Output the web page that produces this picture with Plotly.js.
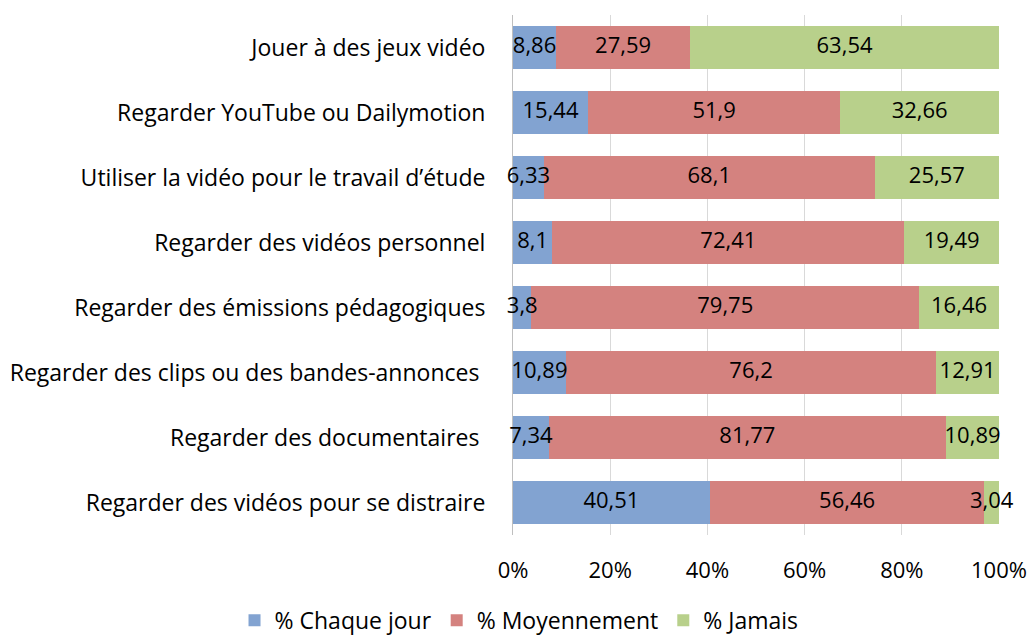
<!DOCTYPE html>
<html><head><meta charset="utf-8">
<script src="https://cdn.plot.ly/plotly-3.0.1.min.js"></script>
<style>body{margin:0;background:#fff}#chart{width:1030px;height:637px}</style>
</head><body><div id="chart"></div>
<script>
const categories = [
  "Jouer à des jeux vidéo",
  "Regarder YouTube ou Dailymotion",
  "Utiliser la vidéo pour le travail d’étude",
  "Regarder des vidéos personnel",
  "Regarder des émissions pédagogiques",
  "Regarder des clips ou des bandes-annonces\u00a0",
  "Regarder des documentaires\u00a0",
  "Regarder des vidéos pour se distraire"
];
const chaqueJour = [8.86, 15.44, 6.33, 8.1, 3.8, 10.89, 7.34, 40.51];
const moyennement = [27.59, 51.9, 68.1, 72.41, 79.75, 76.2, 81.77, 56.46];
const jamais = [63.54, 32.66, 25.57, 19.49, 16.46, 12.91, 10.89, 3.04];
const seriesNames = ["% Chaque jour", "% Moyennement", "% Jamais"];
const seriesColors = ["#82A3D1", "#D4827F", "#B8D08B"];
const tickVals = [0, 20, 40, 60, 80, 100];

const fmt = v => String(v).replace('.', ',');
const FONT = "'Open Sans', sans-serif";
const FS = 22;

const series = [chaqueJour, moyennement, jamais];
const data = series.map((vals, i) => ({
  type: 'bar',
  orientation: 'h',
  name: seriesNames[i],
  x: vals,
  y: categories,
  marker: {color: seriesColors[i], line: {width: 0}},
  hoverinfo: 'x+y+name'
}));

// data labels: text-only traces centred on each stacked segment
const base = categories.map(() => 0);
series.forEach((vals) => {
  const mids = vals.map((v, k) => base[k] + v / 2);
  vals.forEach((v, k) => { base[k] += v; });
  data.push({
    type: 'scatter', mode: 'text', x: mids, y: categories,
    text: vals.map(fmt), textposition: 'middle center',
    textfont: {family: FONT, size: FS, color: '#000'},
    cliponaxis: false, showlegend: false, hoverinfo: 'skip'
  });
});

const layout = {
  width: 1030, height: 637,
  barmode: 'stack',
  bargap: 0.35,
  margin: {l: 513, r: 31, t: 15, b: 102, autoexpand: false},
  paper_bgcolor: '#fff', plot_bgcolor: '#fff',
  font: {family: FONT, size: FS, color: '#000'},
  showlegend: true,
  legend: {
    orientation: 'h', xref: 'paper', yref: 'paper',
    x: -0.573, xanchor: 'left', y: -0.164, yanchor: 'middle',
    font: {size: 23, family: FONT, color: '#000'},
    traceorder: 'normal', itemwidth: 30
  },
  xaxis: {
    range: [0, 100], tickvals: tickVals, ticktext: tickVals.map(v => v + '%'),
    showgrid: true, gridcolor: '#D9D9D9', gridwidth: 1,
    zeroline: false, showline: false, ticks: '', ticklabelstandoff: 20,
    tickfont: {size: FS, family: FONT}, fixedrange: true
  },
  yaxis: {
    autorange: 'reversed', type: 'category', layer: 'below traces',
    showline: true, linecolor: '#BFBFBF', linewidth: 1,
    ticks: '', ticklabelstandoff: 22, showgrid: false,
    tickfont: {size: 23, family: FONT}, fixedrange: true
  }
};

Plotly.newPlot('chart', data, layout, {displayModeBar: false, staticPlot: true});
</script>
</body></html>
